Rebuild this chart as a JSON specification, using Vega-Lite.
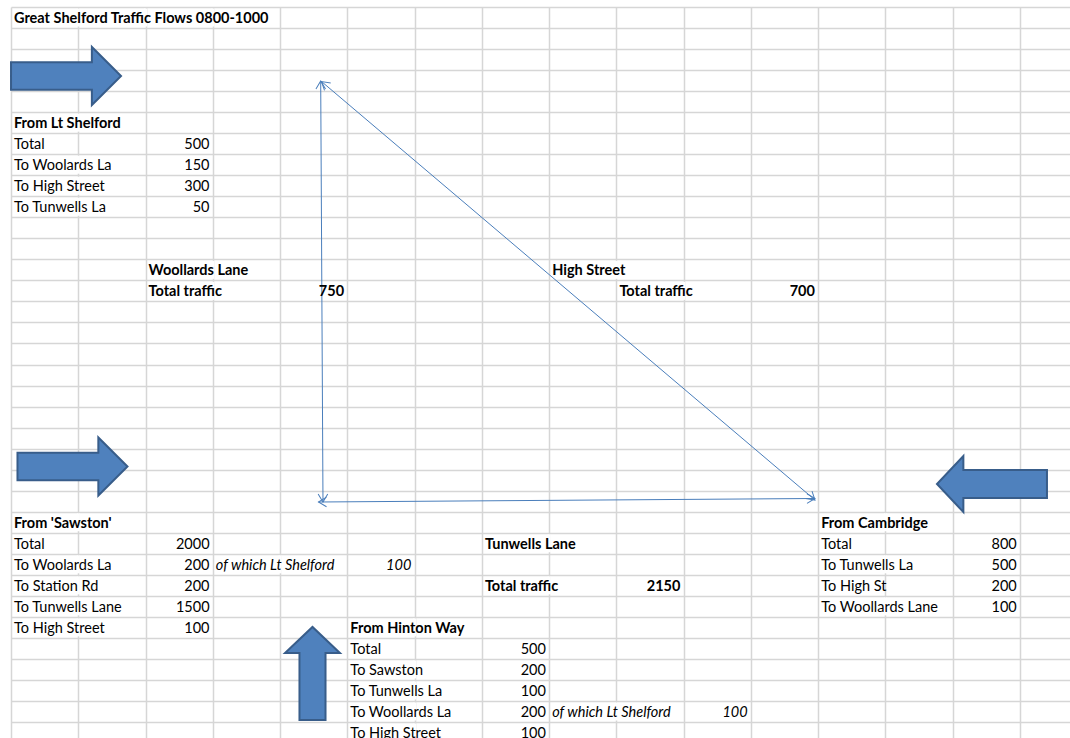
{
  "$schema": "https://vega.github.io/schema/vega-lite/v6.json",
  "width": 1059,
  "height": 731,
  "autosize": {"type": "none"},
  "padding": {"left": 11, "top": 7, "right": 0, "bottom": 0},
  "background": "white",
  "config": {
    "view": {"stroke": null},
    "text": {"font": "Lato", "fontSize": 14.5, "color": "#000000"}
  },
  "datasets": {
    "labels": [
      {"row": 0, "col": 0, "text": "Great Shelford Traffic Flows 0800-1000", "style": "b"},
      {"row": 5, "col": 0, "text": "From Lt Shelford", "style": "b"},
      {"row": 6, "col": 0, "text": "Total", "style": "n"},
      {"row": 7, "col": 0, "text": "To Woolards La", "style": "n"},
      {"row": 8, "col": 0, "text": "To High Street", "style": "n"},
      {"row": 9, "col": 0, "text": "To Tunwells La", "style": "n"},
      {"row": 12, "col": 2, "text": "Woollards Lane", "style": "b"},
      {"row": 12, "col": 8, "text": "High Street", "style": "b"},
      {"row": 13, "col": 2, "text": "Total traffic", "style": "b"},
      {"row": 13, "col": 9, "text": "Total traffic", "style": "b"},
      {"row": 24, "col": 0, "text": "From 'Sawston'", "style": "b"},
      {"row": 24, "col": 12, "text": "From Cambridge", "style": "b"},
      {"row": 25, "col": 0, "text": "Total", "style": "n"},
      {"row": 25, "col": 7, "text": "Tunwells Lane", "style": "b"},
      {"row": 25, "col": 12, "text": "Total", "style": "n"},
      {"row": 26, "col": 0, "text": "To Woolards La", "style": "n"},
      {"row": 26, "col": 3, "text": "of which Lt Shelford", "style": "i"},
      {"row": 26, "col": 12, "text": "To Tunwells La", "style": "n"},
      {"row": 27, "col": 0, "text": "To Station Rd", "style": "n"},
      {"row": 27, "col": 7, "text": "Total traffic", "style": "b"},
      {"row": 27, "col": 12, "text": "To High St", "style": "n"},
      {"row": 28, "col": 0, "text": "To Tunwells Lane", "style": "n"},
      {"row": 28, "col": 12, "text": "To Woollards Lane", "style": "n"},
      {"row": 29, "col": 0, "text": "To High Street", "style": "n"},
      {"row": 29, "col": 5, "text": "From Hinton Way", "style": "b"},
      {"row": 30, "col": 5, "text": "Total", "style": "n"},
      {"row": 31, "col": 5, "text": "To Sawston", "style": "n"},
      {"row": 32, "col": 5, "text": "To Tunwells La", "style": "n"},
      {"row": 33, "col": 5, "text": "To Woollards La", "style": "n"},
      {"row": 33, "col": 8, "text": "of which Lt Shelford", "style": "i"},
      {"row": 34, "col": 5, "text": "To High Street", "style": "n"}
    ],
    "nums": [
      {"row": 6, "col": 2, "value": 500, "style": "n"},
      {"row": 7, "col": 2, "value": 150, "style": "n"},
      {"row": 8, "col": 2, "value": 300, "style": "n"},
      {"row": 9, "col": 2, "value": 50, "style": "n"},
      {"row": 13, "col": 4, "value": 750, "style": "b"},
      {"row": 13, "col": 11, "value": 700, "style": "b"},
      {"row": 25, "col": 2, "value": 2000, "style": "n"},
      {"row": 25, "col": 14, "value": 800, "style": "n"},
      {"row": 26, "col": 2, "value": 200, "style": "n"},
      {"row": 26, "col": 5, "value": 100, "style": "i"},
      {"row": 26, "col": 14, "value": 500, "style": "n"},
      {"row": 27, "col": 2, "value": 200, "style": "n"},
      {"row": 27, "col": 9, "value": 2150, "style": "b"},
      {"row": 27, "col": 14, "value": 200, "style": "n"},
      {"row": 28, "col": 2, "value": 1500, "style": "n"},
      {"row": 28, "col": 14, "value": 100, "style": "n"},
      {"row": 29, "col": 2, "value": 100, "style": "n"},
      {"row": 30, "col": 7, "value": 500, "style": "n"},
      {"row": 31, "col": 7, "value": 200, "style": "n"},
      {"row": 32, "col": 7, "value": 100, "style": "n"},
      {"row": 33, "col": 7, "value": 200, "style": "n"},
      {"row": 33, "col": 10, "value": 100, "style": "i"},
      {"row": 34, "col": 7, "value": 100, "style": "n"}
    ],
    "overflow": [
      {"row": 0, "col": 1}, {"row": 0, "col": 2}, {"row": 0, "col": 3},
      {"row": 5, "col": 1}, {"row": 7, "col": 1}, {"row": 8, "col": 1}, {"row": 9, "col": 1},
      {"row": 12, "col": 3}, {"row": 12, "col": 9},
      {"row": 13, "col": 3}, {"row": 13, "col": 10},
      {"row": 24, "col": 1}, {"row": 24, "col": 13},
      {"row": 25, "col": 8},
      {"row": 26, "col": 1}, {"row": 26, "col": 4}, {"row": 26, "col": 13},
      {"row": 27, "col": 1}, {"row": 27, "col": 8},
      {"row": 28, "col": 1}, {"row": 28, "col": 13},
      {"row": 29, "col": 1}, {"row": 29, "col": 6},
      {"row": 31, "col": 6}, {"row": 32, "col": 6},
      {"row": 33, "col": 6}, {"row": 33, "col": 9},
      {"row": 34, "col": 6}
    ],
    "links": [
      {"link": "Woollards Lane", "col": 4.604, "row": 3.019, "col2": 4.638, "row2": 23.038},
      {"link": "Tunwells Lane", "col": 4.571, "row": 23.038, "col2": 11.952, "row2": 22.871},
      {"link": "High Street", "col": 4.616, "row": 3.043, "col2": 11.952, "row2": 22.943}
    ],
    "heads": [
      {"link": "Woollards Lane", "col": 4.604, "row": 3.019, "heading": 269.7},
      {"link": "Woollards Lane", "col": 4.638, "row": 23.038, "heading": 89.7},
      {"link": "Tunwells Lane", "col": 4.571, "row": 23.038, "heading": 179.6},
      {"link": "Tunwells Lane", "col": 11.952, "row": 22.871, "heading": 359.6},
      {"link": "High Street", "col": 4.616, "row": 3.043, "heading": 220.3},
      {"link": "High Street", "col": 11.952, "row": 22.943, "heading": 40.3}
    ],
    "arrowsRight": [
      {"from": "Lt Shelford", "col": 0.818, "row": 2.781},
      {"from": "Sawston", "col": 0.914, "row": 21.35}
    ],
    "arrowsLeft": [
      {"from": "Cambridge", "col": 14.583, "row": 22.182}
    ],
    "arrowsUp": [
      {"from": "Hinton Way", "col": 4.482, "row": 31.19}
    ],
    "freeze": [
      {"row": 29.5}
    ]
  },
  "encoding": {
    "x": {
      "field": "col", "type": "quantitative",
      "scale": {"domain": [0, 15.743], "nice": false, "zero": false},
      "axis": {
        "values": [0,1,2,3,4,5,6,7,8,9,10,11,12,13,14,15],
        "grid": true, "gridColor": "#d6d6d6", "gridWidth": 1.5,
        "labels": false, "ticks": false, "domain": false, "title": null,
        "minExtent": 0, "maxExtent": 0
      }
    },
    "y": {
      "field": "row", "type": "quantitative",
      "scale": {"domain": [-0.5, 34.26], "nice": false, "zero": false, "reverse": true},
      "axis": {
        "values": [-0.5,0.5,1.5,2.5,3.5,4.5,5.5,6.5,7.5,8.5,9.5,10.5,11.5,12.5,13.5,14.5,15.5,16.5,17.5,18.5,19.5,20.5,21.5,22.5,23.5,24.5,25.5,26.5,27.5,28.5,29.5,30.5,31.5,32.5,33.5],
        "grid": true, "gridColor": "#d6d6d6", "gridWidth": 1.5,
        "labels": false, "ticks": false, "domain": false, "title": null,
        "minExtent": 0, "maxExtent": 0
      }
    }
  },
  "layer": [
    {
      "data": {"name": "overflow"},
      "mark": {"type": "tick", "orient": "vertical", "color": "white", "size": 18, "thickness": 3, "opacity": 1}
    },
    {
      "data": {"name": "freeze"},
      "mark": {"type": "rule", "color": "#a3b4cb", "strokeWidth": 1.5, "yOffset": 2},
      "encoding": {
        "x": {"datum": -0.17, "type": "quantitative"},
        "x2": {"datum": 15.75}
      }
    },
    {
      "data": {"name": "links"},
      "mark": {"type": "rule", "color": "#4a7ebb", "strokeWidth": 1},
      "encoding": {
        "x2": {"field": "col2"},
        "y2": {"field": "row2"}
      }
    },
    {
      "data": {"name": "heads"},
      "mark": {"type": "point", "shape": "M -1 -0.6 L 0 0 L -1 0.6", "filled": false, "stroke": "#4a7ebb", "strokeWidth": 1, "size": 256, "opacity": 1},
      "encoding": {
        "angle": {"field": "heading", "type": "quantitative", "scale": null}
      }
    },
    {
      "data": {"name": "arrowsRight"},
      "mark": {"type": "point", "shape": "M -1 -0.25 L 0.47 -0.25 L 0.47 -0.527 L 1 0 L 0.47 0.527 L 0.47 0.25 L -1 0.25 Z", "filled": true, "fill": "#4f81bd", "stroke": "#385d8a", "strokeWidth": 2, "size": 12100, "opacity": 1}
    },
    {
      "data": {"name": "arrowsLeft"},
      "mark": {"type": "point", "shape": "M 1 -0.255 L -0.52 -0.255 L -0.52 -0.51 L -1 0 L -0.52 0.51 L -0.52 0.255 L 1 0.255 Z", "filled": true, "fill": "#4f81bd", "stroke": "#385d8a", "strokeWidth": 2, "size": 12100, "opacity": 1}
    },
    {
      "data": {"name": "arrowsUp"},
      "mark": {"type": "point", "shape": "M -0.28 1 L -0.28 -0.44 L -0.59 -0.44 L 0 -1 L 0.59 -0.44 L 0.28 -0.44 L 0.28 1 Z", "filled": true, "fill": "#4f81bd", "stroke": "#385d8a", "strokeWidth": 2, "size": 8649, "opacity": 1}
    },
    {
      "data": {"name": "labels"},
      "transform": [{"filter": "datum.style == 'n'"}],
      "mark": {"type": "text", "align": "left", "baseline": "middle", "dx": 3, "dy": 1.5},
      "encoding": {"text": {"field": "text"}}
    },
    {
      "data": {"name": "labels"},
      "transform": [{"filter": "datum.style == 'b'"}],
      "mark": {"type": "text", "align": "left", "baseline": "middle", "dx": 3, "dy": 1.5, "fontWeight": "bold"},
      "encoding": {"text": {"field": "text"}}
    },
    {
      "data": {"name": "labels"},
      "transform": [{"filter": "datum.style == 'i'"}],
      "mark": {"type": "text", "align": "left", "baseline": "middle", "dx": 3, "dy": 1.5, "fontStyle": "italic"},
      "encoding": {"text": {"field": "text"}}
    },
    {
      "data": {"name": "nums"},
      "transform": [{"filter": "datum.style == 'n'"}],
      "mark": {"type": "text", "align": "right", "baseline": "middle", "dx": 64, "dy": 1.5},
      "encoding": {"text": {"field": "value", "type": "quantitative", "format": "d"}}
    },
    {
      "data": {"name": "nums"},
      "transform": [{"filter": "datum.style == 'b'"}],
      "mark": {"type": "text", "align": "right", "baseline": "middle", "dx": 64, "dy": 1.5, "fontWeight": "bold"},
      "encoding": {"text": {"field": "value", "type": "quantitative", "format": "d"}}
    },
    {
      "data": {"name": "nums"},
      "transform": [{"filter": "datum.style == 'i'"}],
      "mark": {"type": "text", "align": "right", "baseline": "middle", "dx": 64, "dy": 1.5, "fontStyle": "italic"},
      "encoding": {"text": {"field": "value", "type": "quantitative", "format": "d"}}
    }
  ]
}
